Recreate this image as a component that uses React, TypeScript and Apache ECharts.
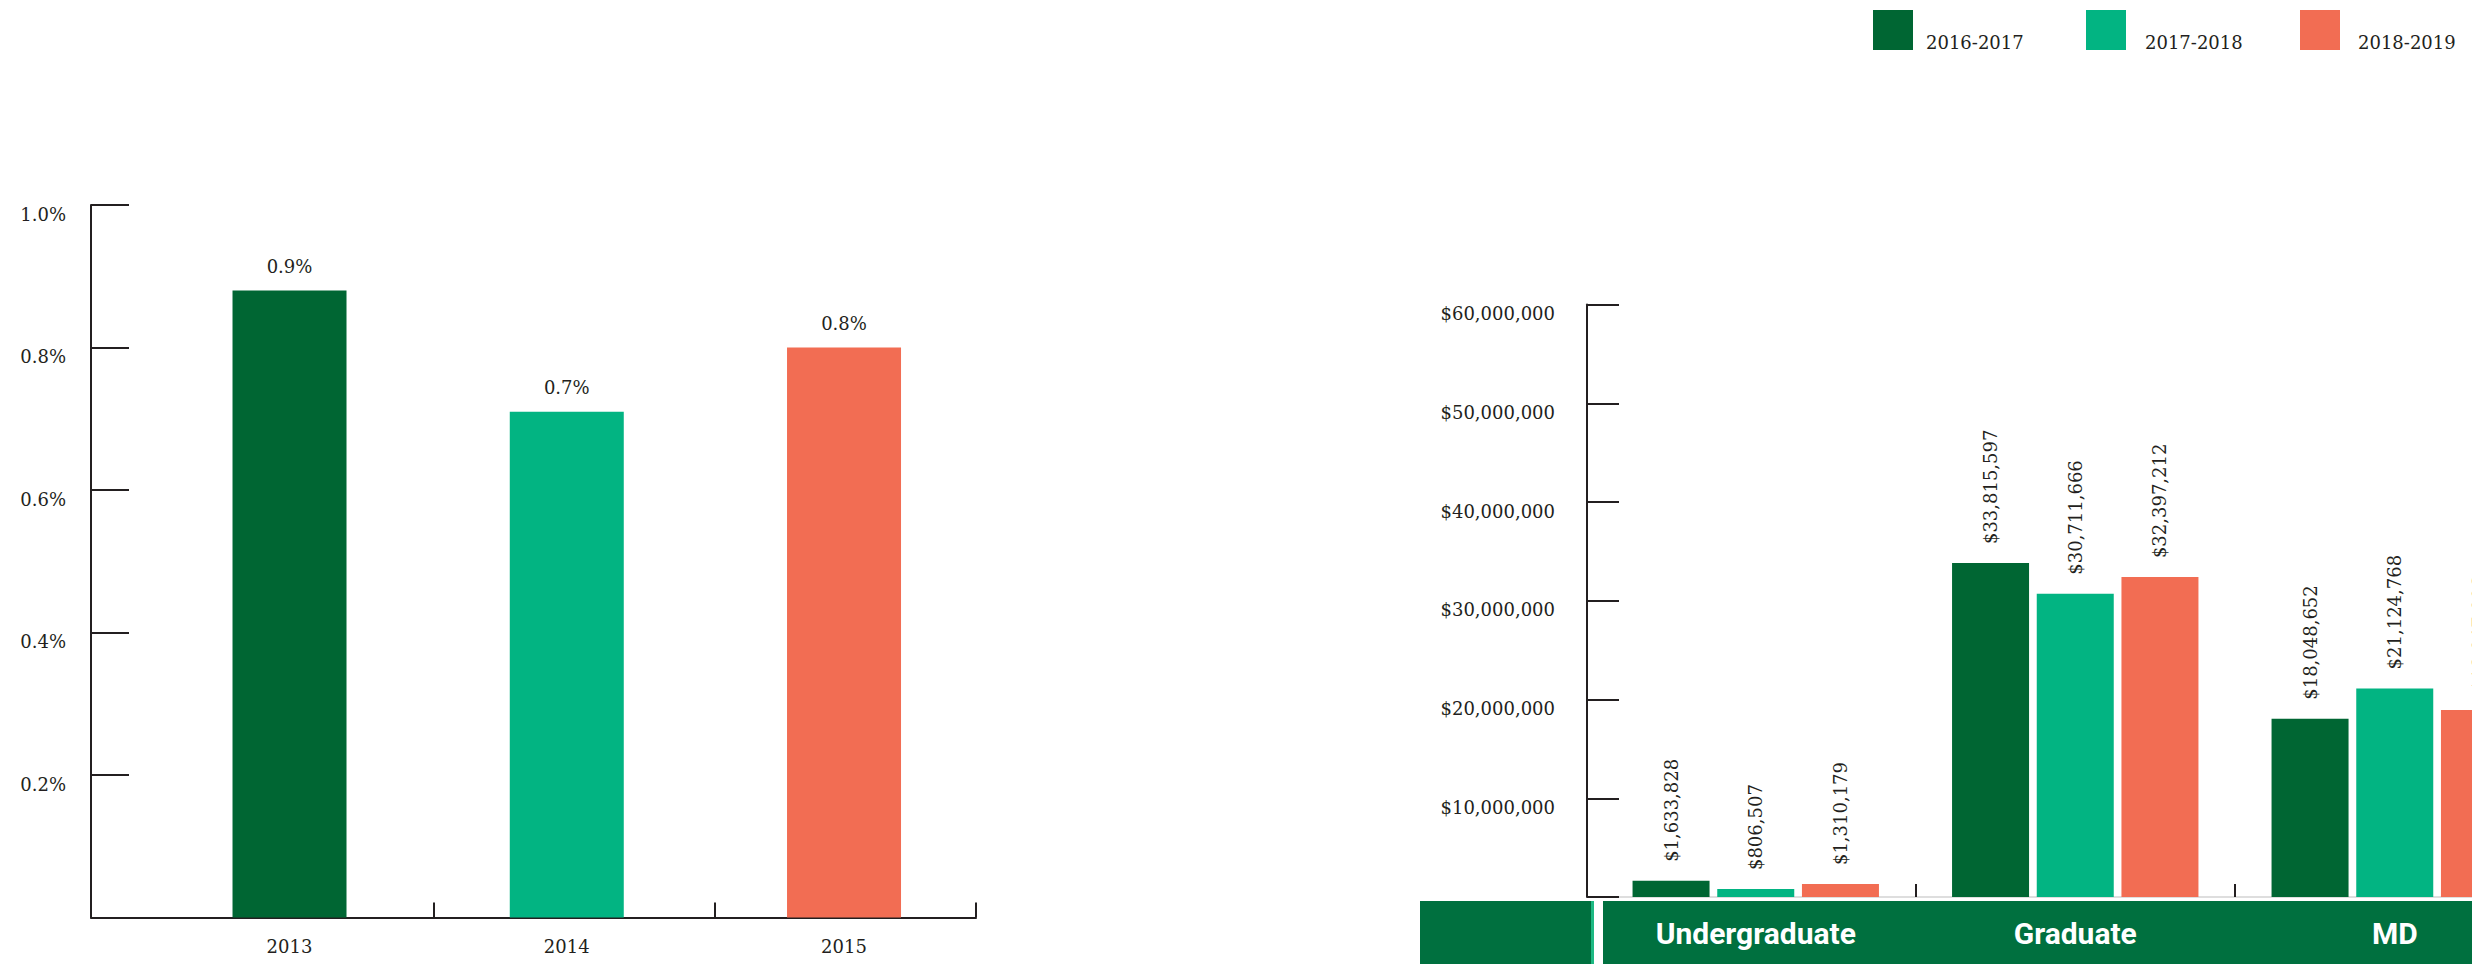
import React, { useEffect, useRef } from 'react';
import * as echarts from 'echarts';

// ---------- data ----------
const rateYears = ['2013', '2014', '2015'];
const rateValues = [0.88, 0.71, 0.8];

const aidCategories = ['Undergraduate', 'Graduate', 'MD'];
const aidYears = ['2016-2017', '2017-2018', '2018-2019'];
const aid2016 = [1633828, 33815597, 18048652];
const aid2017 = [806507, 30711666, 21124768];
const aid2018 = [1310179, 32397212, 18947906];

const colors = ['#006633', '#02b482', '#f26d53'];
const ink = '#231f20';
const serif = '"DejaVu Serif", serif';
const band = '#00703f';

const legendLeft = [1868, 2081, 2295];
const legendTextGap = [8, 14, 13];

const money = (v: number) => '$' + Math.round(v).toLocaleString('en-US');

export default function App() {
  const ref = useRef<HTMLDivElement>(null);
  useEffect(() => {
    if (!ref.current) return;
    const chart = echarts.init(ref.current, undefined, { renderer: 'svg' });
    const aidSeries = [aid2016, aid2017, aid2018].map((arr, k) => ({
      name: aidYears[k],
      type: 'bar',
      xAxisIndex: 1,
      yAxisIndex: 1,
      barWidth: 77,
      barGap: '10%',
      color: colors[k],
      data: arr,
      label: {
        show: true,
        position: 'top',
        rotate: 90,
        align: 'left',
        verticalAlign: 'middle',
        distance: 19,
        formatter: (p: any) => money(p.value),
        fontFamily: serif,
        fontSize: 18,
        color: ink,
      },
    }));
    const legends = aidYears.map((name, k) => ({
      data: [name],
      left: legendLeft[k],
      top: 4,
      itemWidth: 40,
      itemHeight: 40,
      icon: 'rect',
      selectedMode: false,
      formatter: (n: string) => `{t|${n}}`,
      textStyle: {
        fontFamily: serif,
        fontSize: 18,
        color: ink,
        rich: {
          t: {
            fontFamily: serif,
            fontSize: 18,
            color: ink,
            lineHeight: 16,
            padding: [24, 0, 0, legendTextGap[k]],
          },
        },
      },
    }));
    const option: any = {
      animation: false,
      legend: legends,
      grid: [
        { left: 91, top: 205, width: 885, bottom: 46.5, outerBoundsMode: 'none', containLabel: false },
        { left: 1596, top: 304.5, right: -82.5, bottom: 67, outerBoundsMode: 'none', containLabel: false },
      ],
      xAxis: [
        {
          gridIndex: 0,
          type: 'value',
          min: -0.716,
          max: 2.476,
          splitLine: { show: false },
          axisLine: { show: true, onZero: false, lineStyle: { color: ink, width: 2 } },
          axisTick: {
            show: true,
            inside: true,
            length: 15,
            lineStyle: { color: ink, width: 2 },
            customValues: [0.52, 1.533, 2.476],
          },
          axisLabel: {
            customValues: [0, 1, 2],
            formatter: (v: number) => rateYears[Math.round(v)] ?? '',
            margin: 20,
            fontFamily: serif,
            fontSize: 18,
            color: ink,
          },
        },
        {
          gridIndex: 1,
          type: 'category',
          data: aidCategories,
          axisLine: { show: true, onZero: false, lineStyle: { color: '#dedede', width: 2 } },
          axisTick: {
            show: true,
            inside: true,
            length: 13,
            lineStyle: { color: ink, width: 2 },
            interval: (i: number) => i > 0,
          },
          axisLabel: {
            margin: 21,
            fontFamily: 'Roboto, sans-serif',
            fontWeight: 'bold',
            fontSize: 30,
            color: '#ffffff',
          },
        },
      ],
      yAxis: [
        {
          gridIndex: 0,
          type: 'value',
          min: 0,
          max: 1,
          interval: 0.2,
          splitLine: { show: false },
          axisLine: { show: true, onZero: false, lineStyle: { color: ink, width: 2 } },
          axisTick: { show: true, inside: true, length: 38, lineStyle: { color: ink, width: 2 } },
          axisLabel: {
            formatter: (v: number) => (v === 0 ? '' : v.toFixed(1) + '%'),
            margin: 25,
            verticalAlign: 'top',
            fontFamily: serif,
            fontSize: 18,
            color: ink,
          },
        },
        {
          gridIndex: 1,
          type: 'value',
          min: 0,
          max: 60000000,
          interval: 10000000,
          offset: 9,
          splitLine: { show: false },
          axisLine: { show: true, onZero: false, lineStyle: { color: ink, width: 2 } },
          axisTick: { show: true, inside: true, length: 32, lineStyle: { color: ink, width: 2 } },
          axisLabel: {
            formatter: (v: number) => (v === 0 ? '' : money(v)),
            margin: 32,
            verticalAlign: 'top',
            fontFamily: serif,
            fontSize: 18,
            color: ink,
          },
        },
      ],
      graphic: [
        { type: 'rect', z: -1, shape: { x: 1420, y: 901, width: 171, height: 63 }, style: { fill: band } },
        { type: 'rect', z: -1, shape: { x: 1591, y: 901, width: 3, height: 63 }, style: { fill: '#1db983' } },
        { type: 'rect', z: -1, shape: { x: 1603, y: 901, width: 869, height: 63 }, style: { fill: band } },
        { type: 'line', z: -1, shape: { x1: 1587, y1: 897, x2: 1597, y2: 897 }, style: { stroke: '#dedede', lineWidth: 2 } },
      ],
      series: [
        {
          type: 'bar',
          xAxisIndex: 0,
          yAxisIndex: 0,
          barWidth: 114,
          data: rateValues.map((v, i) => ({ value: [i, v], itemStyle: { color: colors[i] } })),
          label: {
            show: true,
            position: 'top',
            distance: 15,
            formatter: (p: any) => p.value[1].toFixed(1) + '%',
            fontFamily: serif,
            fontSize: 18,
            color: ink,
          },
        },
        ...aidSeries,
      ],
    };
    chart.setOption(option);
    return () => chart.dispose();
  }, []);
  return (
    <div
      ref={ref}
      style={{ position: 'fixed', left: 0, top: 0, width: 2472, height: 964, background: '#ffffff', overflow: 'hidden' }}
    />
  );
}
